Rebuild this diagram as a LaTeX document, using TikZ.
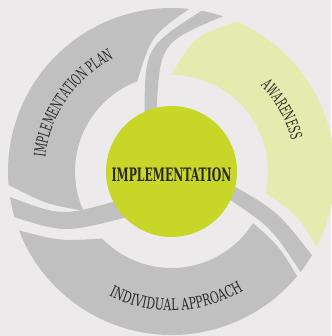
\documentclass[tikz,border=0pt]{standalone}
\usepackage{fontspec}
\newfontfamily\slab{DejaVu Serif}[FakeStretch=0.58]
\newfontfamily\slabw{DejaVu Serif}[FakeStretch=0.68]
\newfontfamily\slabc{DejaVu Serif}[FakeStretch=0.59]
\usetikzlibrary{decorations.text}
\definecolor{bg}{RGB}{237,234,235}
\definecolor{band}{RGB}{192,192,192}
\definecolor{aware}{RGB}{228,235,174}
\definecolor{core}{RGB}{200,214,40}
\definecolor{txt}{RGB}{40,40,40}
\begin{document}
\begin{tikzpicture}[x=1pt,y=1pt,
  grayband/.style={fill=band},
  awareband/.style={fill=aware},
  ringtext/.style={decorate, decoration={text along path, text align=center, text color=txt}}]
\def\Ro{163.5}\def\Ri{96.5}
\useasboundingbox (-171.5,-164.5) rectangle (159.5,171.5);
\fill[bg] (-171.5,-164.5) rectangle (159.5,171.5);
% implementation plan
\fill[grayband] (184.7:\Ro) arc[start angle=184.7, end angle=83.8, radius=\Ro]
  .. controls (-20.2,135.8) .. (110.8:\Ri)
  arc[start angle=110.8, end angle=204, radius=\Ri]
  .. controls (-125.6,-32.56) .. (184.7:\Ro) -- cycle;
% awareness
\fill[awareband] (66.3:\Ro) arc[start angle=66.3, end angle=-27.4, radius=\Ro]
  .. controls (125.4,-42.85) .. (-12.9:\Ri)
  arc[start angle=-12.9, end angle=89.9, radius=\Ri]
  .. controls (22.75,135.9) .. (66.3:\Ro) -- cycle;
% individual approach
\fill[grayband] (201.1:\Ro) arc[start angle=201.1, end angle=320.2, radius=\Ro]
  .. controls (107.7,-74.75) .. (327.7:\Ri)
  arc[start angle=327.7, end angle=224, radius=\Ri]
  .. controls (-111.6,-69.6) .. (201.1:\Ro) -- cycle;
% thin spiral bands
\fill[grayband] (79.4:\Ro) .. controls (-26.5,124.5) .. (-27,56.5) -- (-15,59.5)
  .. controls (-11.4,128.7) .. (71.7:\Ro) arc[start angle=71.7, end angle=79.4, radius=\Ro] -- cycle;
\fill[grayband] (189:\Ro) .. controls (-110.25,-44.73) .. (-57,-30) -- (-42,-45)
  .. controls (-106.8,-61.55) .. (196.2:\Ro) arc[start angle=196.2, end angle=189, radius=\Ro] -- cycle;
\fill[grayband] (-30.8:\Ro) .. controls (106.1,-39.7) .. (58,-12) -- (55,-26)
  .. controls (99.56,-55.73) .. (-37.9:\Ro) arc[start angle=-37.9, end angle=-30.8, radius=\Ro] -- cycle;
% core
\node[circle, fill=core, minimum size=131pt, inner sep=0pt] (core) at (0,0) {};
\node[text=txt, inner sep=0pt, font=\slabc\bfseries\fontsize{18.5}{19}\selectfont] (coretext) at (0,-3.5) {IMPLEMENTATION};
% ring texts
\path[ringtext, decoration={text={|\slab\fontsize{16}{17}\selectfont|IMPLEMENTATION PLAN}}]
  (195.3:127) arc[start angle=195.3, end angle=95.3, radius=127];
\path[ringtext, decoration={text={|\slab\fontsize{16}{17}\selectfont|AWARENESS}}]
  (79.2:124) arc[start angle=79.2, end angle=-20.8, radius=124];
\path[ringtext, decoration={text={|\slabw\fontsize{16}{17}\selectfont|INDIVIDUAL APPROACH}}]
  (222.2:139) arc[start angle=222.2, end angle=322.2, radius=139];
\end{tikzpicture}
\end{document}
